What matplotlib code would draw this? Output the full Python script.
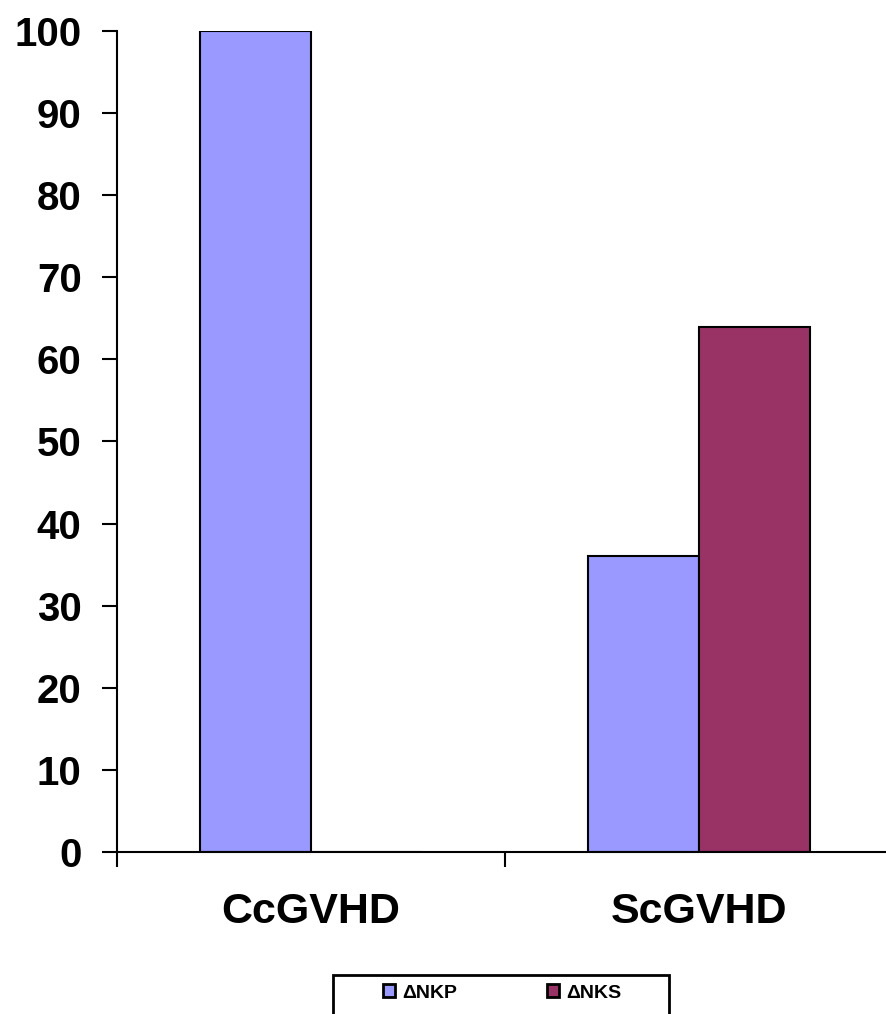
import numpy as np
import matplotlib.pyplot as plt
from matplotlib.patches import Rectangle

plt.rcParams['font.family'] = ['Liberation Sans', 'DejaVu Sans']
plt.rcParams['font.weight'] = 'bold'

categories = ['CcGVHD', 'ScGVHD']
nkp = [100, 36]
nks = [0, 64]
series_names = ['\u0394NKP', '\u0394NKS']
colors = ['#9999FF', '#993366']

fig = plt.figure(figsize=(8.86, 10.14), dpi=100)
ax = fig.add_axes([117 / 886, 1 - 852 / 1014, 776 / 886, 821 / 1014])

x = np.arange(len(categories))
w = 0.286
ax.bar(x - w / 2, nkp, w, color=colors[0], edgecolor='black', linewidth=1.5,
       label=series_names[0])
ax.bar(x + w / 2, nks, w, color=colors[1], edgecolor='black', linewidth=1.5,
       label=series_names[1])

ax.set_xlim(-0.5, 1.5)
ax.set_ylim(0, 100)
ax.set_yticks(np.arange(0, 101, 10))
ax.set_xticks([-0.5, 0.5, 1.5])
ax.set_xticklabels([])
ax.set_xticks(x, minor=True)
ax.set_xticklabels(categories, minor=True, fontsize=31, fontweight='bold')
ax.tick_params(axis='x', which='minor', length=0, pad=29)
ax.tick_params(axis='x', which='major', length=10.5, width=1.5, direction='out')
ax.tick_params(axis='y', length=10.5, width=1.5, direction='out', labelsize=29, pad=15)

for s in ['top', 'right']:
    ax.spines[s].set_visible(False)
ax.spines['left'].set_linewidth(1.5)
ax.spines['bottom'].set_linewidth(1.5)

# legend entries without frame, box drawn separately (it runs off the bottom edge)
leg = fig.legend(loc='center', bbox_to_anchor=(502 / 886, 1 - 993 / 1014), ncol=2,
                 fontsize=14, frameon=False,
                 handlelength=0.65, handleheight=0.65, handletextpad=0.35,
                 columnspacing=4.6, borderpad=0, borderaxespad=0)
for h in leg.legend_handles:
    h.set_linewidth(2)
fig.patches.append(Rectangle((333 / 886, -0.02), 336 / 886, 0.02 + 1 - 975 / 1014,
                             transform=fig.transFigure, fill=False,
                             edgecolor='black', linewidth=2))

fig.savefig('out.png', dpi=100)
